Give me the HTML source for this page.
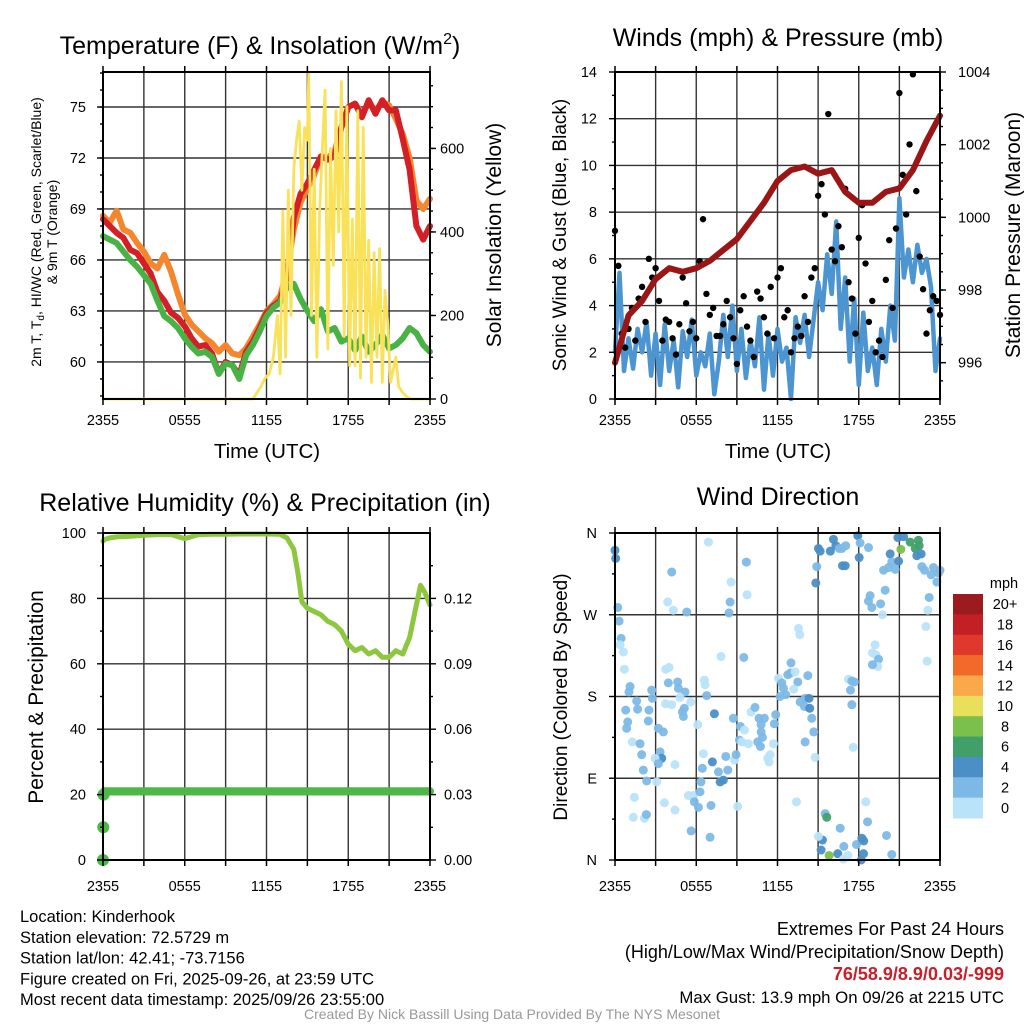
<!DOCTYPE html>
<html><head><meta charset="utf-8"><style>
html,body{margin:0;padding:0;background:#fff;}
svg{display:block;font-family:"Liberation Sans",Arial,sans-serif;}
</style></head><body>
<svg id="chart" width="1024" height="1024" viewBox="0 0 1024 1024" xmlns="http://www.w3.org/2000/svg">
<rect width="1024" height="1024" fill="#fff"/>
<g id="grids"></g><g id="series"></g><g id="frames"></g><g id="labels"></g>
</svg>
<script>
// ---------- DATA ----------
const xTickLabels = ["2355","0555","1155","1755","2355"];
const tempTickLabels = [60,63,66,69,72,75];
const solarTickLabels = [0,200,400,600];
const windTickLabels = [0,2,4,6,8,10,12,14];
const presTickLabels = [996,998,1000,1002,1004];
const rhTickLabels = [0,20,40,60,80,100];
const precipTickLabels = ["0.00","0.03","0.06","0.09","0.12"];
const dirTickLabels = ["N","E","S","W","N"];
const speedBins = ["0","2","4","6","8","10","12","14","16","18","20+"];
const speedColors = ["#b9e3f9","#7db9e6","#4a8fc6","#41a06a","#7cc04c","#e8e05a","#f9a94a","#f26a2a","#e0392b","#c21f27","#9b1b1e"];

// temperatures, half-hourly from 2355
const tempRed = [68.4,68.0,67.6,67.3,66.6,66.4,65.8,65.2,64.1,63.6,62.9,62.6,62.1,61.4,60.9,61.0,60.5,59.3,60.0,59.8,59.2,60.6,61.2,62.0,62.9,63.3,63.6,65.0,68.5,69.9,70.5,71.3,72.1,71.9,72.1,73.8,75.0,75.2,74.4,75.4,74.6,75.4,74.8,74.8,73.1,71.3,68.0,67.2,68.0];
const tempOrange = [68.6,68.2,68.9,67.8,67.6,67.0,66.5,65.8,65.5,66.3,65.3,64.0,62.8,62.2,61.8,61.4,61.1,60.6,61.0,60.5,60.4,60.8,61.5,62.2,63.0,63.4,63.9,65.3,67.8,69.4,70.2,71.0,72.1,72.0,72.4,73.8,75.0,75.2,74.6,75.2,74.8,75.3,75.1,74.3,73.4,72.0,69.5,69.0,69.6];
const dewGreen = [67.4,67.2,67.0,66.5,66.0,65.6,65.1,64.6,63.6,62.7,62.4,62.0,61.4,60.9,60.5,60.6,60.3,59.3,59.9,59.8,59.0,60.4,61.0,61.8,62.7,63.2,63.5,64.4,64.6,63.7,63.0,62.4,63.1,61.8,62.0,61.2,61.4,60.7,61.5,60.6,61.0,61.6,60.8,61.0,61.4,62.0,61.7,61.0,60.6];
const solarTimes = [0,11.0,11.3,11.6,11.9,12.2,12.5,12.8,13.0,13.2,13.4,13.6,13.8,14.0,14.2,14.4,14.6,14.8,15.0,15.1,15.3,15.5,15.7,15.9,16.1,16.3,16.5,16.7,16.9,17.1,17.3,17.5,17.7,17.9,18.1,18.3,18.5,18.7,18.9,19.1,19.3,19.5,19.7,19.9,20.1,20.3,20.5,20.7,20.9,21.1,21.3,21.5,21.7,22.0,22.3,22.6,24];
const solar = [0,0,15,30,50,60,100,200,60,450,100,500,200,550,620,665,500,650,620,780,200,550,100,450,600,740,120,600,320,690,400,760,150,700,80,430,80,690,50,650,100,380,40,350,100,360,40,260,180,40,70,100,30,15,5,0,0];

// winds every 20 min
const windSpeed = [2.0,5.4,1.2,2.6,1.3,3.0,2.0,3.3,1.0,2.8,0.6,3.2,1.2,2.5,0.5,2.9,1.8,3.4,1.0,2.0,1.4,2.8,0.2,1.6,
 3.6,1.8,4.0,1.2,3.0,0.9,2.5,1.4,3.5,0.4,2.8,1.0,
 3.0,1.6,2.2,0.0,3.5,2.4,3.6,1.8,3.4,5.0,3.8,6.2,
 4.5,7.6,3.0,5.2,1.6,4.3,0.6,3.7,1.2,2.2,0.6,3.0,
 1.6,4.0,2.5,8.6,5.2,6.4,5.0,6.6,5.4,6.0,4.8,1.2,2.6];
// gusts every 15 min
const windGust = [7.2,5.7,2.8,2.2,3.0,3.9,2.5,4.3,4.8,3.3,6.0,5.2,
 5.6,4.2,2.5,3.4,3.3,2.6,1.9,3.2,5.2,4.1,2.9,3.3,
 2.6,5.9,7.7,4.5,3.6,3.9,2.7,2.7,3.2,4.2,3.5,2.6,
 1.5,3.8,4.4,3.1,2.5,1.8,4.6,4.3,3.5,2.8,4.8,2.6,
 5.2,5.6,3.5,3.8,2.0,2.6,3.1,2.7,4.4,3.3,5.2,5.6,
 8.7,9.2,7.9,12.2,6.4,5.9,7.4,6.5,9.0,5.0,4.3,2.8,
 6.9,8.3,5.8,3.3,4.2,2.0,2.5,1.8,5.1,6.8,3.9,7.3,
 13.1,9.6,7.9,10.9,13.9,8.9,6.1,4.7,2.8,3.8,4.4,4.2,3.6];
// pressure hourly
const pressure = [996.0,997.3,997.7,998.3,998.6,998.5,998.6,998.8,999.1,999.4,999.9,1000.4,1001.0,1001.3,1001.4,1001.2,1001.3,1000.7,1000.4,1000.4,1000.7,1000.8,1001.3,1002.1,1002.8];

// RH & precip
const rhTimes = [0,0.1,0.5,1,2,3,4,5,6,7,8,9,10,11,12,13,13.5,14,14.3,14.6,15,15.5,16,16.5,17,17.5,18,18.5,19,19.5,20,20.5,21,21.5,22,22.5,23,23.3,23.6,24];
const rh = [97.5,98,98.5,98.8,99,99.3,99.5,99.5,98.3,99.5,99.6,99.6,99.7,99.7,99.7,99.6,98.5,95,88,79,77,76,75,73,72,70,66,64,65,63,64,62,62,64,63,68,78,84,82,78];
const precipTimes = [0,0.02,0.04,0.1,24];
const precip = [0,0.015,0.03,0.0315,0.0315];

// wind direction points
const wdTimes = [0.0,0.05,0.2,0.3,0.45,0.37,0.62,0.69,1.11,1.03,1.6,1.67,0.79,0.94,0.86,1.28,1.43,1.35,2.17,2.32,1.85,1.97,2.09,2.34,2.46,2.51,2.71,2.76,3.2,3.57,3.33,3.45,2.96,3.2,3.08,3.65,3.89,4.31,4.19,3.74,3.99,3.94,4.63,4.68,5.17,4.8,5.12,4.98,5.05,3.74,4.19,5.59,5.3,4.43,4.43,5.42,5.79,5.86,6.16,5.62,6.28,6.35,6.45,6.53,6.11,6.6,6.65,6.77,7.34,7.19,7.09,7.02,7.64,7.76,8.0,8.18,8.33,7.83,8.5,8.42,8.57,9.7,9.75,9.51,8.74,8.82,8.94,9.19,9.26,9.36,9.56,9.85,10.05,10.34,10.64,10.79,11.03,10.79,10.54,10.89,10.74,11.45,11.38,11.28,11.7,11.77,11.87,12.07,12.32,12.44,12.61,12.76,12.96,13.0,13.3,13.5,13.2,12.19,13.55,13.65,13.67,13.99,14.04,14.24,14.33,14.38,14.53,14.68,14.04,14.78,13.4,15.02,15.15,14.9,14.83,16.13,16.31,16.75,17.04,16.8,17.0,17.93,18.1,18.03,18.72,18.84,18.97,18.72,19.61,19.75,19.95,19.83,20.2,20.32,20.44,20.69,20.94,20.89,21.31,21.11,21.8,22.41,22.46,22.17,22.29,22.61,22.66,22.86,23.35,23.52,23.77,23.89,24.0,23.2,23.1,22.96,23.05,19.21,19.01,19.26,19.46,19.41,19.01,17.24,17.49,17.68,17.39,17.49,17.59,15.52,15.64,15.32,15.22,15.02,15.81,16.45,16.9,16.63,16.87,17.19,17.83,18.23,18.37,18.35,18.18,18.65,18.52,20.05,20.44,6.9,9.06,16.56,15.9];
const wdDirs = [341,332,278,263,244,237,229,210,191,185,175,166,165,152,145,130,69,47,46,50,128,116,99,87,153,165,187,178,145,141,119,112,112,106,86,63,284,275,317,210,212,195,196,189,185,179,167,163,158,172,171,174,273,105,55,71,71,64,58,32,75,86,101,117,149,198,193,181,161,108,60,25,97,86,88,114,99,224,284,272,306,328,292,223,156,110,116,132,147,130,143,128,163,168,156,149,156,141,130,135,125,116,108,112,128,150,160,200,195,189,182,204,206,217,207,196,188,180,255,248,174,169,178,203,178,167,156,141,130,113,64,343,340,323,305,353,346,343,346,324,324,357,349,333,344,291,278,285,282,270,297,319,322,337,328,320,329,355,356,342,350,352,346,343,335,337,323,319,314,322,306,316,319,289,275,257,219,237,228,226,221,213,215,199,197,196,187,171,124,51,47,22,11,26,5,7,15,35,1,5,17,24,21,7,0,42,64,27,6,350,59,343,340];
const wdSpeeds = [5,5,3,3,3,1,1,1,3,3,3,3,3,3,3,1,1,1,1,3,3,3,3,3,3,3,3,3,3,3,3,5,1,3,1,1,1,1,3,1,1,3,3,3,3,1,3,3,3,1,1,1,3,1,1,1,1,3,3,3,3,3,3,1,1,1,1,3,5,5,3,3,3,5,5,3,3,1,3,3,1,3,1,3,3,1,3,3,3,1,1,1,1,3,3,3,3,3,3,3,3,1,1,1,1,3,3,1,3,3,3,3,3,3,1,3,1,3,1,1,3,3,3,3,5,5,3,3,3,1,1,5,5,3,5,5,5,3,3,5,5,5,3,5,3,3,3,3,3,1,3,3,3,5,3,3,5,5,5,9,7,7,7,7,5,5,3,3,3,3,3,3,3,3,1,1,1,1,1,1,3,1,3,1,3,3,3,3,1,3,7,5,5,1,9,5,3,3,1,1,3,5,5,5,5,3,1,3,3,1,1,3,5];

// ---------- HELPERS ----------
const NS = "http://www.w3.org/2000/svg";
const G = {grids:document.getElementById('grids'),series:document.getElementById('series'),frames:document.getElementById('frames'),labels:document.getElementById('labels')};
function mk(tag, attrs, parent){const e=document.createElementNS(NS,tag);for(const k in attrs)e.setAttribute(k,attrs[k]);(parent||G.series).appendChild(e);return e;}
function txt(s, x, y, size, anchor, parent, extra){const e=mk('text',Object.assign({x:x,y:y,'font-size':size,'text-anchor':anchor||'middle',fill:'#000'},extra||{}),parent||G.labels);e.textContent=s;return e;}
function lin(d0,d1,r0,r1){return v=>r0+(v-d0)*(r1-r0)/(d1-d0);}
function poly(xs, ys, xf, yf, color, w, name){
  let d='';for(let i=0;i<xs.length;i++){d+=(i?'L':'M')+xf(xs[i]).toFixed(1)+','+yf(ys[i]).toFixed(1);}
  const p=mk('path',{d:d,fill:'none',stroke:color,'stroke-width':w,'stroke-linejoin':'round','stroke-linecap':'round'});
  
  
  return p;
}
function panel(px0,px1,py0,py1,name){
  const r=mk('rect',{x:px0,y:py0,width:px1-px0,height:py1-py0,fill:'none',stroke:'#000','stroke-width':2},G.frames);
  
  
  const xf=lin(0,24,px0,px1);
  for(let h=3;h<24;h+=3){mk('line',{x1:xf(h),x2:xf(h),y1:py0,y2:py1,stroke:'#333','stroke-width':1.4},G.grids);}
  for(let h=0;h<=24;h+=3){mk('line',{x1:xf(h),x2:xf(h),y1:py1,y2:py1+6,stroke:'#000','stroke-width':1.5},G.frames);mk('line',{x1:xf(h),x2:xf(h),y1:py0,y2:py0-6,stroke:'#000','stroke-width':1.5},G.frames);}
  return xf;
}
function hGrid(px0,px1,y){mk('line',{x1:px0,x2:px1,y1:y,y2:y,stroke:'#333','stroke-width':1.4},G.grids);}
function tickL(x,y,len){mk('line',{x1:x,x2:x-len,y1:y,y2:y,stroke:'#000','stroke-width':1.4},G.frames);}
function tickR(x,y,len){mk('line',{x1:x,x2:x+len,y1:y,y2:y,stroke:'#000','stroke-width':1.4},G.frames);}
function xLabels(xf,y){xTickLabels.forEach((s,i)=>{const t=txt(s,xf(i*6),y,14.5,'middle');});}

// ---------- PANEL 1 ----------
(function(){
  const X0=103,X1=430,Y0=72,Y1=399;
  const xf=panel(X0,X1,Y0,Y1,'temperature-plot-area');
  const yT=lin(57.82,77.06,Y1,Y0), yS=lin(0,783,Y1,Y0);
  tempTickLabels.forEach(v=>{hGrid(X0,X1,yT(v));tickL(X0,yT(v),6);txt(String(v),86,yT(v)+5,14.5,'end');});
  for(let v=58;v<=77;v++){tickL(X0,yT(v),3);}
  solarTickLabels.forEach(v=>{tickR(X1,yS(v),6);txt(String(v),440,yS(v)+5,14.5,'start');});
  for(let v=50;v<=750;v+=50){tickR(X1,yS(v),3);}
  const halfT=tempRed.map((_,i)=>i*0.5);
  poly(halfT,tempOrange,xf,yT,'#f4862e',6,'temp-9m-orange-line');
  poly(halfT,tempRed,xf,yT,'#d41f26',6,'temp-2m-red-line');
  poly(halfT,dewGreen,xf,yT,'#48b244',6,'dewpoint-green-line');
  poly(solarTimes,solar,xf,yS,'#f9e15a',2.8,'solar-insolation-yellow-line');
  xLabels(xf,425);
  const t=txt('Temperature (F) & Insolation (W/m',260,54,25,'middle');
  const sup=document.createElementNS(NS,'tspan');sup.setAttribute('dy','-10');sup.setAttribute('font-size','16');sup.textContent='2';t.appendChild(sup);
  const cl=document.createElementNS(NS,'tspan');cl.setAttribute('dy','10');cl.textContent=')';t.appendChild(cl);
  
  const xt=txt('Time (UTC)',267,458,20.5,'middle');
  const yl=txt('',0,0,14,'middle',G.labels,{transform:'translate(41,232) rotate(-90)'});
  yl.innerHTML='2m T, T<tspan font-size="10" dy="3">d</tspan><tspan dy="-3">, HI/WC (Red, Green, Scarlet/Blue)</tspan>';
  
  const yl2=txt('& 9m T (Orange)',0,0,14,'middle',G.labels,{transform:'translate(57,232) rotate(-90)'});
  
  const yr=txt('Solar Insolation (Yellow)',0,0,21,'middle',G.labels,{transform:'translate(501,235) rotate(-90)'});
  
})();

// ---------- PANEL 2 ----------
(function(){
  const X0=615,X1=940,Y0=72,Y1=399;
  const xf=panel(X0,X1,Y0,Y1,'winds-plot-area');
  const yW=lin(0,14,Y1,Y0), yP=lin(995,1004,Y1,Y0);
  windTickLabels.forEach(v=>{hGrid(X0,X1,yW(v));tickL(X0,yW(v),6);txt(String(v),597,yW(v)+5,14.5,'end');});
  for(let v=1;v<14;v+=2){tickL(X0,yW(v),3);}
  presTickLabels.forEach(v=>{tickR(X1,yP(v),6);txt(String(v),958,yP(v)+5,14.5,'start');});
  for(let v=995.5;v<1004;v+=0.5){tickR(X1,yP(v),3);}
  poly(windSpeed.map((_,i)=>i/3),windSpeed,xf,yW,'#4d95d0',4.5,'sonic-wind-blue-line');
  windGust.forEach((v,i)=>{const c=mk('circle',{cx:xf(i*0.25),cy:yW(v),r:3.2,fill:'#000'});
    
    });
  poly(pressure.map((_,i)=>i),pressure,xf,yP,'#9a1616',6,'station-pressure-maroon-line');
  xLabels(xf,425);
  const t=txt('Winds (mph) & Pressure (mb)',778,46,25,'middle');
  const xt=txt('Time (UTC)',778,458,20.5,'middle');
  const yl=txt('Sonic Wind & Gust (Blue, Black)',0,0,19,'middle',G.labels,{transform:'translate(566,235) rotate(-90)'});
  
  const yr=txt('Station Pressure (Maroon)',0,0,21,'middle',G.labels,{transform:'translate(1020,235) rotate(-90)'});
  
})();

// ---------- PANEL 3 ----------
(function(){
  const X0=103,X1=430,Y0=533,Y1=860;
  const xf=panel(X0,X1,Y0,Y1,'humidity-plot-area');
  const yR=lin(0,100,Y1,Y0), yPr=lin(0,0.15,Y1,Y0);
  rhTickLabels.forEach(v=>{if(v>0&&v<100)hGrid(X0,X1,yR(v));tickL(X0,yR(v),6);txt(String(v),86,yR(v)+5,14.5,'end');});
  for(let v=10;v<100;v+=20){tickL(X0,yR(v),3);}
  precipTickLabels.forEach(s=>{const v=parseFloat(s);tickR(X1,yPr(v),6);txt(s,444,yPr(v)+5,14.5,'start');});
  for(let v=0.015;v<0.15;v+=0.03){tickR(X1,yPr(v),3);}
  poly(precipTimes.slice(2),precip.slice(2),xf,yPr,'#4cb847',8,'precipitation-line');
  precipTimes.slice(0,3).forEach((t,i)=>{const c=mk('circle',{cx:xf(t),cy:yPr(precip[i]),r:6,fill:'#4cb847'});
    
    });
  poly(rhTimes,rh,xf,yR,'#8dc63f',5,'relative-humidity-line');
  xLabels(xf,891);
  const t=txt('Relative Humidity (%) & Precipitation (in)',265,511,25,'middle');
  const yl=txt('Percent & Precipitation',0,0,21,'middle',G.labels,{transform:'translate(43,697) rotate(-90)'});
  
})();

// ---------- PANEL 4 ----------
(function(){
  const X0=615,X1=940,Y0=533,Y1=860;
  const xf=panel(X0,X1,Y0,Y1,'wind-direction-plot-area');
  const yD=lin(0,360,Y1,Y0);
  dirTickLabels.forEach((s,i)=>{const v=i*90;if(i>0&&i<4)hGrid(X0,X1,yD(v));tickL(X0,yD(v),6);txt(s,597,yD(v)+5,14.5,'end');});
  for(let v=45;v<360;v+=90){tickL(X0,yD(v),3);}
  wdTimes.forEach((t,i)=>{const bin=Math.min(10,Math.floor(wdSpeeds[i]/2));
    const c=mk('circle',{cx:xf(t),cy:yD(wdDirs[i]),r:4.5,fill:speedColors[bin],'fill-opacity':0.95});
    
    });
  xLabels(xf,891);
  const t=txt('Wind Direction',778,505,25,'middle');
  const yl=txt('Direction (Colored By Speed)',0,0,19,'middle',G.labels,{transform:'translate(567,697) rotate(-90)'});
  
  const cbTop=594, cbH=224/11;
  const lt=txt('mph',1004,588,14.5,'middle');
  speedBins.forEach((s,i)=>{const k=10-i;
    const r=mk('rect',{x:953,y:cbTop+i*cbH,width:30,height:cbH+0.5,fill:speedColors[k]},G.labels);
    
    
    txt(speedBins[k],1005,cbTop+i*cbH+cbH/2+5,14.5,'middle');});
})();

// ---------- FOOTER TEXT ----------
const leftInfo=["Location: Kinderhook","Station elevation: 72.5729 m","Station lat/lon: 42.41; -73.7156","Figure created on Fri, 2025-09-26, at 23:59 UTC","Most recent data timestamp: 2025/09/26 23:55:00"];
leftInfo.forEach((s,i)=>{const t=txt(s,20,922+i*20.8,16.5,'start');});
[["Extremes For Past 24 Hours",935],["(High/Low/Max Wind/Precipitation/Snow Depth)",958]].forEach(a=>{const t=txt(a[0],1004,a[1],18,'end');});
const ex=txt('76/58.9/8.9/0.03/-999',1004,980,18,'end',G.labels,{fill:'#c8202a','font-weight':'bold'});

const mg=txt('Max Gust: 13.9 mph On 09/26 at 2215 UTC',1004,1003,16.8,'end');

const cr=txt('Created By Nick Bassill Using Data Provided By The NYS Mesonet',512,1019,14,'middle',G.labels,{fill:'#999'});

</script>
</body></html>
